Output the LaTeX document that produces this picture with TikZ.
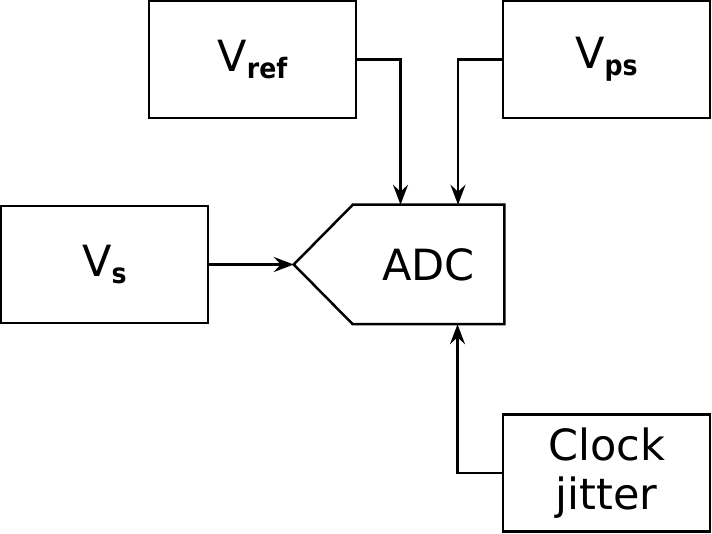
\documentclass[tikz,border=0pt]{standalone}
\usepackage{fontspec}
\setmainfont{DejaVu Sans}
\newfontfamily\subfont{DejaVu Sans Condensed Bold}
\usepackage{tikz}
\usetikzlibrary{calc}
\usetikzlibrary{positioning}
\usetikzlibrary{arrows.meta}

\tikzset{
  block/.style={draw,line width=2.5pt,minimum width=207pt,minimum height=117pt,inner sep=0pt,
    font=\fontsize{43}{49}\selectfont,align=center},
  wire/.style={line width=2.5pt,-{Stealth[length=20pt,width=15pt,inset=7pt]}},
}
\newcommand{\subs}[1]{\raisebox{-7pt}{\subfont\fontsize{28}{28}\selectfont #1}}

\begin{document}
\begin{tikzpicture}[x=1pt,y=-1pt]
\useasboundingbox (0,0) rectangle (712,534);

\node[block] (vref) at (252.5,59.5) {V\subs{ref}};
\node[block] (vps) at (606.5,59.5) {V\subs{ps}};
\node[block] (vs) at (104.5,264.5) {V\subs{s}};
\node[block] (clk) at (606.5,473) {Clock\\jitter};

% ADC block with pointed input side
\node[block,draw=none,minimum width=149pt] (adc) at (428.5,264.5) {ADC};
\coordinate (adcin) at ($(adc.west)+(-59,0)$);
\draw[line width=2.5pt,line join=miter] (adc.north west) -- (adc.north east) -- (adc.south east)
  -- (adc.south west) -- (adcin) -- cycle;

\draw[wire] (vs.east) -- (adcin);
\draw[wire] (vref.east) -| ($(adc.north)+(-28,0)$);
\draw[wire] (vps.west) -| ($(adc.north)+(29.5,0)$);
\draw[wire] (clk.west) -| ($(adc.south)+(29,0)$);

\end{tikzpicture}
\end{document}
